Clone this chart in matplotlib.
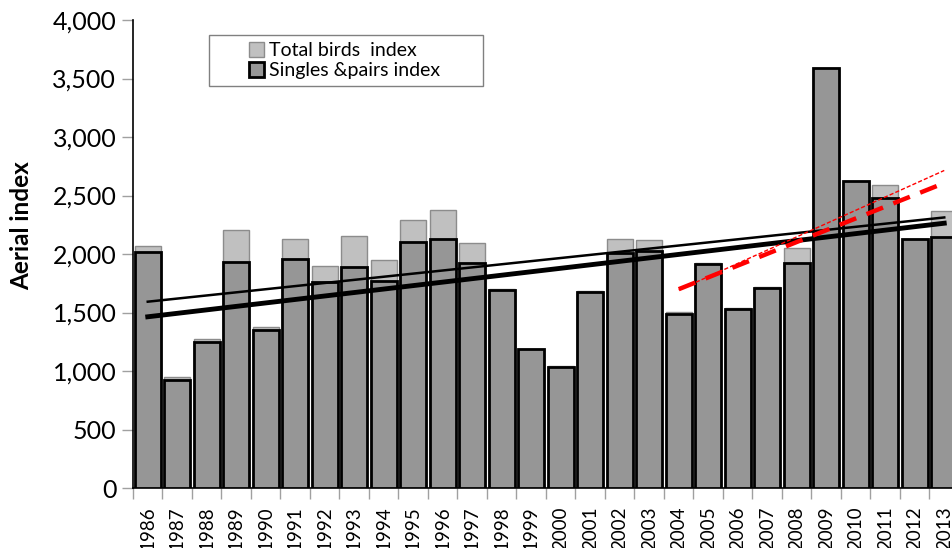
import matplotlib
matplotlib.use("Agg")
import matplotlib.pyplot as plt
import numpy as np
from matplotlib.ticker import FuncFormatter, FixedLocator
from matplotlib.patches import Rectangle

plt.rcParams['font.family'] = ['Lato', 'DejaVu Sans']

years = list(range(1986, 2014))
total_index = [2071, 945, 1275, 2208, 1376, 2131, 1897, 2151, 1946, 2288, 2379, 2097,
               1705, 1190, 1040, 1684, 2128, 2123, 1501, 1927, 1540, 1716, 2049, 3590,
               2624, 2590, 2128, 2368]
singles_index = [2020, 925, 1251, 1934, 1348, 1960, 1764, 1892, 1772, 2100, 2128, 1926,
                 1690, 1185, 1037, 1675, 2006, 2028, 1484, 1912, 1533, 1712, 1920, 3587,
                 2624, 2481, 2128, 2148]
recent_start = 2004

fig = plt.figure(figsize=(9.53, 5.48), dpi=100)
ax = fig.add_axes([133/953, 60/548, 826/953, 468/548])

x = np.arange(len(years))
ax.bar(x, total_index, width=0.88, color='#c0c0c0', edgecolor='#8c8c8c', linewidth=1,
       label='Total birds  index', zorder=2)
ax.bar(x, singles_index, width=0.88, color='#969696', edgecolor='black', linewidth=2,
       label='Singles &pairs index', zorder=3)

# trend lines over all years
xs = np.array([x[0], x[-1]])
pt = np.polyfit(x, total_index, 1)
ps = np.polyfit(x, singles_index, 1)
ax.plot(xs, np.polyval(pt, xs), color='black', lw=1.8, zorder=4)
ax.plot(xs, np.polyval(ps, xs), color='black', lw=3.5, zorder=4)

# recent trend lines
i0 = years.index(recent_start)
xr = x[i0:]
prt = np.polyfit(xr, total_index[i0:], 1)
prs = np.polyfit(xr, singles_index[i0:], 1)
xre = np.array([xr[0], xr[-1]])
ax.plot(xre, np.polyval(prt, xre), color='red', lw=1.0, ls=(0, (3, 1.5)), zorder=5)
ax.plot(xre, np.polyval(prs, xre), color='red', lw=3.2, ls=(0, (4, 2.5)), zorder=5)

ax.set_xlim(-0.5, len(years) - 0.5)
ax.set_ylim(0, 4000)
ax.set_yticks(np.arange(0, 4001, 500))
ax.yaxis.set_major_formatter(FuncFormatter(lambda v, p: f"{int(v):,}"))
ax.set_xticks(x)
ax.set_xticklabels([str(y) for y in years], rotation=90, fontsize=13.5)
ax.xaxis.set_minor_locator(FixedLocator(np.arange(-0.5, len(years), 1)))
ax.tick_params(axis='x', which='major', length=0, pad=13)
ax.tick_params(axis='x', which='minor', length=8, color='#a0a0a0', width=1)
ax.tick_params(axis='y', length=8, color='#a0a0a0', width=1, labelsize=18, pad=4)

for s in ['top', 'right']:
    ax.spines[s].set_visible(False)
ax.spines['left'].set_linewidth(1.2)
ax.spines['bottom'].set_linewidth(1.2)

ax.set_ylabel('Aerial index', fontsize=17.5, fontweight='bold')
ax.yaxis.set_label_coords(-(133 - 33) / 826, (488 - 226) / 468)

# legend box
bx0, bx1 = (209 - 133) / 826, (483 - 133) / 826
by1, by0 = (488 - 35) / 468, (488 - 86) / 468
ax.add_patch(Rectangle((bx0, by0), bx1 - bx0, by1 - by0, transform=ax.transAxes,
                       facecolor='white', edgecolor='#808080', lw=1, zorder=6,
                       clip_on=False))
leg = ax.legend(loc='center', bbox_to_anchor=((bx0 + bx1) / 2 - 0.002, (by0 + by1) / 2),
                fontsize=14, frameon=False, handlelength=0.8, handleheight=0.8,
                handletextpad=0.25, borderpad=0, labelspacing=0.15, borderaxespad=0)
leg.set_zorder(7)

fig.savefig('out.png', dpi=100)
